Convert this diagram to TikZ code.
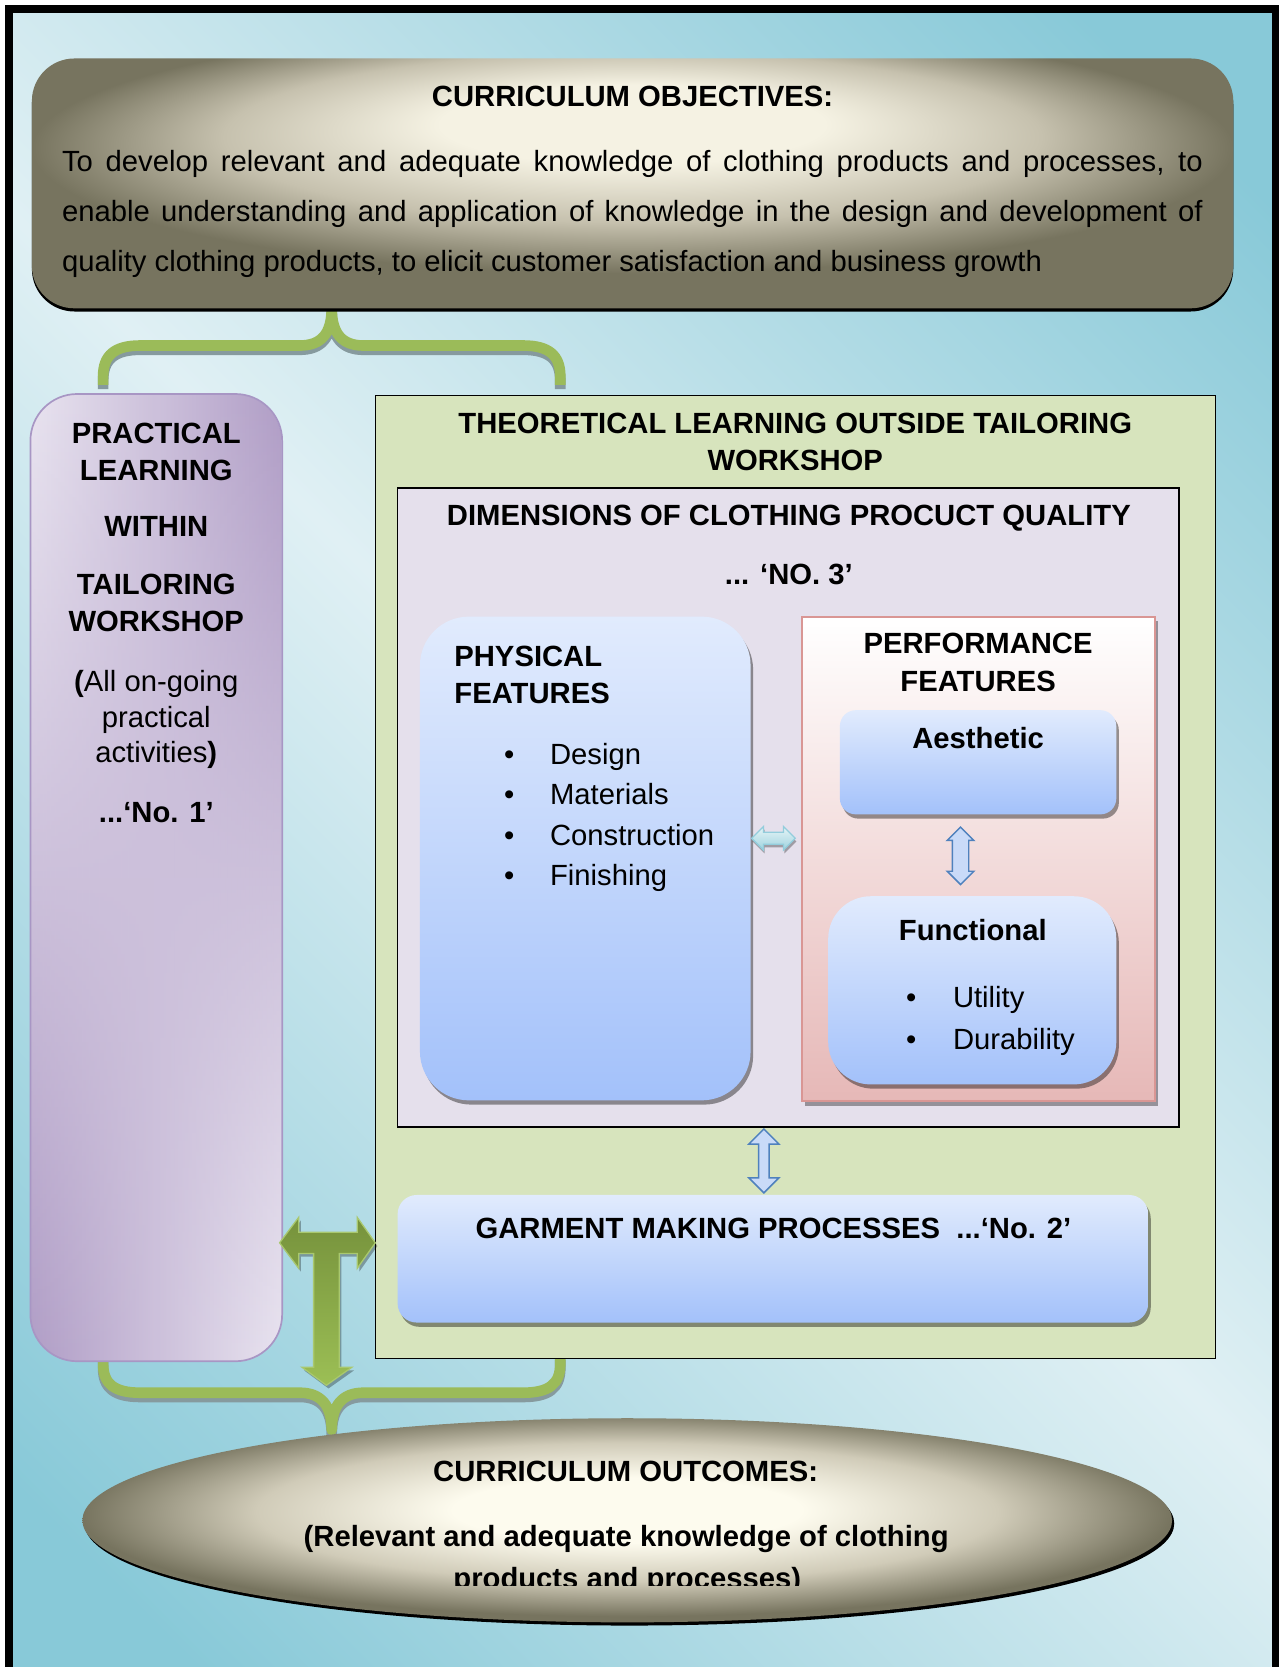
\documentclass[tikz,border=0pt]{standalone}
\usepackage{fontspec}
\setmainfont{Liberation Sans}
\usetikzlibrary{shapes.geometric,shapes.arrows,shadows,fadings}

\definecolor{bgdark}{HTML}{88C9D8}
\definecolor{bglight}{HTML}{E0F0F4}
\definecolor{objin}{HTML}{F5F2E3}
\definecolor{objmid}{HTML}{C6C1AE}
\definecolor{objout}{HTML}{77745F}
\definecolor{outin}{HTML}{FDFBEE}
\definecolor{outmid}{HTML}{D0CBB8}
\definecolor{outout}{HTML}{77745F}
\definecolor{praclight}{HTML}{E9E4F0}
\definecolor{pracdark}{HTML}{B09DC6}
\definecolor{pracedge}{HTML}{A896C4}
\definecolor{theofill}{HTML}{D7E4BD}
\definecolor{dimsfill}{HTML}{E5E0EC}
\definecolor{bluetop}{HTML}{E1EBFD}
\definecolor{bluebot}{HTML}{A3C1FA}
\definecolor{perfbot}{HTML}{E6B8B7}
\definecolor{perfedge}{HTML}{D99694}
\definecolor{braceg}{HTML}{9BBB59}
\definecolor{braceshadow}{HTML}{869A9E}
\definecolor{tdark}{HTML}{76923C}
\definecolor{tlight}{HTML}{9CBF55}
\definecolor{tedge}{HTML}{A9C86E}
\definecolor{arrblue}{HTML}{4F81BD}
\definecolor{arrfill}{HTML}{C9DAF8}
\definecolor{cyantop}{HTML}{E6F4F7}
\definecolor{cyanbot}{HTML}{9FD3DE}
\definecolor{cyanedge}{HTML}{93CDDC}

\pgfdeclareradialshading{objshade}{\pgfpoint{0bp}{14bp}}{color(0bp)=(objin); color(8bp)=(objin); color(17bp)=(objmid); color(25bp)=(objout); color(50bp)=(objout)}
\pgfdeclareradialshading{outshade}{\pgfpoint{0bp}{3bp}}{color(0bp)=(outin); color(8bp)=(outin); color(17bp)=(outmid); color(25bp)=(outout); color(50bp)=(outout)}

\tikzset{
 lbl/.style={inner sep=0pt, font=\fontsize{13.75}{16}\selectfont},
 blbl/.style={inner sep=0pt, font=\fontsize{13.75}{16}\selectfont\bfseries},
 objbox/.style={inner sep=0pt, rounded corners=20pt, minimum width=565pt, minimum height=117.5pt,
   shade, shading=objshade, drop shadow={shadow xshift=0pt, shadow yshift=-1.5pt, fill=black, opacity=1}},
 outbox/.style={ellipse, inner sep=0pt, minimum width=512.5pt, minimum height=96pt,
   shade, shading=outshade, drop shadow={shadow xshift=1pt, shadow yshift=-1.5pt, fill=black, opacity=1}},
 pracbox/.style={inner sep=0pt, rounded corners=22pt, minimum width=118pt, minimum height=454.5pt,
   left color=praclight, right color=pracdark},
 theobox/.style={inner sep=0pt, draw=black, line width=0.6pt, fill=theofill, minimum width=395pt, minimum height=453pt},
 dimsbox/.style={inner sep=0pt, draw=black, line width=0.6pt, fill=dimsfill, minimum width=367.5pt, minimum height=300.5pt},
 bluebox/.style={inner sep=0pt, top color=bluetop, bottom color=bluebot,
   drop shadow={shadow xshift=1.2pt, shadow yshift=-2pt, fill=black, opacity=0.4}},
 perfbox/.style={inner sep=0pt, draw=perfedge, line width=1pt, top color=white, bottom color=perfbot,
   drop shadow={shadow xshift=1.5pt, shadow yshift=-2pt, fill=black, opacity=0.35}},
 bluearr/.style={double arrow, rotate=90, draw=arrblue, line width=0.7pt, fill=arrfill, inner sep=0pt},
 cyanarr/.style={double arrow, draw=cyanedge, line width=0.6pt, top color=cyantop, bottom color=cyanbot, inner sep=0pt,
   drop shadow={shadow xshift=0.5pt, shadow yshift=-1.5pt, fill=black, opacity=0.3}},
 bracestyle/.style={draw=braceg, line width=5pt, line join=round},
 braceshade/.style={draw=braceshadow, line width=5pt, line join=round, yshift=-2pt},
}

\begin{document}
\begin{tikzpicture}[x=0.5pt,y=-0.5pt]
\useasboundingbox (0,0) rectangle (1203,1568);
\clip (0,0) rectangle (1203,1568);
\fill[white] (0,0) rectangle (1203,1568);
\begin{scope}
\clip (12,12) rectangle (1196,1568);
\shade[top color=bgdark, bottom color=bgdark, middle color=bglight, shading angle=-45] (-250,-60) rectangle (1450,1640);
\end{scope}
\draw[line width=3.5pt] (8.5,1600) -- (8.5,8.5) -- (1199.5,8.5) -- (1199.5,1600);

% braces
\def\bracetop{(97,362) -- (97,354) .. controls (97,334) and (108,325) .. (132,325) -- (282,325) .. controls (302,325) and (312,314) .. (312,290) .. controls (312,314) and (322,325) .. (342,325) -- (492,325) .. controls (516,325) and (527,334) .. (527,354) -- (527,362)}
\def\bracebot{(97,1275) -- (97,1283) .. controls (97,1302) and (108,1310) .. (132,1310) -- (282,1310) .. controls (302,1310) and (312,1322) .. (312,1345) .. controls (312,1322) and (322,1310) .. (342,1310) -- (492,1310) .. controls (516,1310) and (527,1302) .. (527,1283) -- (527,1275)}
\path[braceshade] \bracetop;
\path[bracestyle] \bracetop;
\path[braceshade] \bracebot;
\path[bracestyle] \bracebot;

% boxes
\node[objbox] (obj) at (595,172.5) {};
\node[pracbox] (prac) at (147,825.5) {};
\path[rounded corners=22pt, left color=pracdark, right color=praclight, path fading=north] (prac.south west) rectangle (prac.north east);
\draw[pracedge, line width=0.8pt, rounded corners=22pt] (prac.south west) rectangle (prac.north east);
\node[theobox] (theo) at (748,825) {};
\node[dimsbox] (dims) at (741.5,759.5) {};
\node[bluebox, rounded corners=23pt, minimum width=155.5pt, minimum height=227.5pt] (phys) at (550.5,807.5) {};
\node[perfbox, minimum width=166pt, minimum height=228pt] (perf) at (920,808) {};
\node[bluebox, rounded corners=7.5pt, minimum width=130pt, minimum height=49pt] (aes) at (920,717) {};
\node[bluebox, rounded corners=20pt, minimum width=135.5pt, minimum height=88.5pt] (func) at (914.5,931.5) {};
\node[bluebox, rounded corners=9pt, minimum width=353pt, minimum height=60pt] (garm) at (727,1184) {};
\node[outbox] (outc) at (590,1430) {};

% T arrow
\def\Tpath{(263,1169) -- (281,1145) -- (281,1159) -- (336,1159) -- (336,1145) -- (353,1169) -- (336,1193) -- (336,1179) -- (319,1179) -- (319,1286) -- (331,1286) -- (307,1303) -- (284,1286) -- (295,1286) -- (295,1179) -- (281,1179) -- (281,1193) -- cycle}
\fill[black, opacity=0.3, xshift=1pt, yshift=-1.5pt] \Tpath;
\shade[top color=tdark, bottom color=tlight, draw=tedge, line width=0.6pt] \Tpath;

% small arrows
\node[cyanarr, minimum height=20.5pt, inner ysep=2.5pt, double arrow head extend=2.75pt] (ppa) at (727.5,788.5) {};
\node[bluearr, minimum height=27pt, inner ysep=3.5pt, double arrow head extend=2.4pt] (afa) at (903.5,805) {};
\node[bluearr, minimum height=30pt, inner ysep=2.1pt, double arrow head extend=4.6pt] (dga) at (718.5,1092) {};

% objectives text
\node[blbl, anchor=base] (objt) at (595,100.3) {CURRICULUM OBJECTIVES:};
\node[lbl, anchor=base west] (obj1) at (58,161.5) {\makebox[536.5pt][s]{To develop relevant and adequate knowledge of clothing products and processes, to}};
\node[lbl, anchor=base west] (obj2) at (58,208.5) {\makebox[536.5pt][s]{enable understanding and application of knowledge in the design and development of}};
\node[lbl, anchor=base west] (obj3) at (58,255) {quality clothing products, to elicit customer satisfaction and business growth};

% practical text
\node[blbl, anchor=base] (p1) at (147,417.5) {PRACTICAL};
\node[blbl, anchor=base] (p2) at (147,451.5) {LEARNING};
\node[blbl, anchor=base] (p3) at (147,505) {WITHIN};
\node[blbl, anchor=base] (p4) at (147,559.5) {TAILORING};
\node[blbl, anchor=base] (p5) at (147,594) {WORKSHOP};
\node[lbl, anchor=base] (p6) at (147,650.5) {\textbf{(}All on-going};
\node[lbl, anchor=base] (p7) at (147,684) {practical};
\node[lbl, anchor=base] (p8) at (147,717.5) {activities\textbf{)}};
\node[blbl, anchor=base] (p9) at (147,774) {...‘No. 1’};

% theoretical text
\node[blbl, anchor=base] (t1) at (748,408) {THEORETICAL LEARNING OUTSIDE TAILORING};
\node[blbl, anchor=base] (t2) at (748,443) {WORKSHOP};
\node[blbl, anchor=base] (d1) at (742,494) {DIMENSIONS OF CLOTHING PROCUCT QUALITY};
\node[blbl, anchor=base] (d2) at (742,550) {... ‘NO. 3’};

% physical
\node[blbl, anchor=base west] (ph1) at (427,627) {PHYSICAL};
\node[blbl, anchor=base west] (ph2) at (427,661.5) {FEATURES};
\node[lbl, anchor=base] (b1) at (479,719) {\textbullet};
\node[lbl, anchor=base] (b2) at (479,757) {\textbullet};
\node[lbl, anchor=base] (b3) at (479,795) {\textbullet};
\node[lbl, anchor=base] (b4) at (479,833) {\textbullet};
\node[lbl, anchor=base west] (i1) at (517,719) {Design};
\node[lbl, anchor=base west] (i2) at (517,757) {Materials};
\node[lbl, anchor=base west] (i3) at (517,795) {Construction};
\node[lbl, anchor=base west] (i4) at (517,833) {Finishing};

% performance
\node[blbl, anchor=base] (pf1) at (920,614.5) {PERFORMANCE};
\node[blbl, anchor=base] (pf2) at (920,650) {FEATURES};
\node[blbl, anchor=base] (ae) at (920,704.5) {Aesthetic};
\node[blbl, anchor=base] (fu) at (915,885) {Functional};
\node[lbl, anchor=base] (b5) at (857,948) {\textbullet};
\node[lbl, anchor=base] (b6) at (857,987) {\textbullet};
\node[lbl, anchor=base west] (i5) at (896,948) {Utility};
\node[lbl, anchor=base west] (i6) at (896,987) {Durability};

% garment
\node[blbl, anchor=base] (g1) at (727.5,1165) {GARMENT MAKING PROCESSES\ \ ...‘No. 2’};

% outcomes
\node[blbl, anchor=base] (o1) at (588.5,1393.5) {CURRICULUM OUTCOMES:};
\node[blbl, anchor=base] (o2) at (589,1454.7) {(Relevant and adequate knowledge of clothing};
\begin{scope}
\clip (0,0) rectangle (1203,1491);
\node[blbl, anchor=base] (o3) at (590,1494.5) {products and processes)};
\end{scope}
\end{tikzpicture}
\end{document}
